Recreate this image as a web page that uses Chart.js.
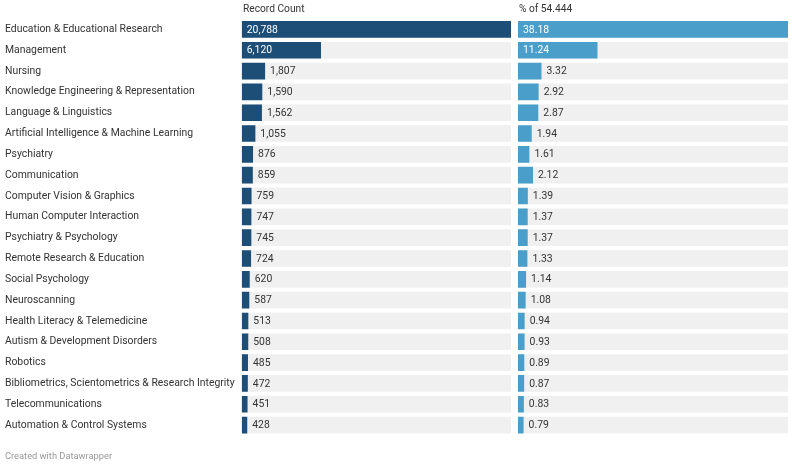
<!DOCTYPE html>
<html><head><meta charset="utf-8">
<script src="https://cdn.jsdelivr.net/npm/chart.js@4/dist/chart.umd.min.js"></script>
<style>
html,body{margin:0;padding:0;background:#fff;width:792px;height:465px;overflow:hidden;font-family:Roboto,sans-serif;}
.box{position:absolute;top:0;height:465px;}
.hdr{position:absolute;top:3px;font-size:10.2px;color:#333;}
.foot{position:absolute;left:5px;top:450px;font-size:9.3px;color:#999;}
</style></head><body>
<div class="box" style="left:0;width:511px"><canvas id="c1"></canvas></div>
<div class="box" style="left:518px;width:270px"><canvas id="c2"></canvas></div>
<div class="hdr" style="left:243px">Record Count</div>
<div class="hdr" style="left:519px">% of 54.444</div>
<div class="foot">Created with Datawrapper</div>
<script>
const categories = ["Education & Educational Research","Management","Nursing","Knowledge Engineering & Representation","Language & Linguistics","Artificial Intelligence & Machine Learning","Psychiatry","Communication","Computer Vision & Graphics","Human Computer Interaction","Psychiatry & Psychology","Remote Research & Education","Social Psychology","Neuroscanning","Health Literacy & Telemedicine","Autism & Development Disorders","Robotics","Bibliometrics, Scientometrics & Research Integrity","Telecommunications","Automation & Control Systems"];
const recordCount = [20788,6120,1807,1590,1562,1055,876,859,759,747,745,724,620,587,513,508,485,472,451,428];
const percentOf = [38.18,11.24,3.32,2.92,2.87,1.94,1.61,2.12,1.39,1.37,1.37,1.33,1.14,1.08,0.94,0.93,0.89,0.87,0.83,0.79];
const countLabels = ["20,788","6,120","1,807","1,590","1,562","1,055","876","859","759","747","745","724","620","587","513","508","485","472","451","428"];
const percentLabels = ["38.18","11.24","3.32","2.92","2.87","1.94","1.61","2.12","1.39","1.37","1.37","1.33","1.14","1.08","0.94","0.93","0.89","0.87","0.83","0.79"];

const FONT = "Roboto, sans-serif";
const FS = 10.4;
function barPlugin(labels){
  return {
    id:'bgAndLabels',
    beforeDatasetsDraw(chart){
      const ctx = chart.ctx, a = chart.chartArea;
      const meta = chart.getDatasetMeta(0);
      ctx.save();
      ctx.fillStyle = '#f0f0f0';
      meta.data.forEach(el => {
        ctx.fillRect(a.left, el.y - el.height/2, a.right - a.left, el.height);
      });
      ctx.restore();
    },
    afterDatasetsDraw(chart){
      const ctx = chart.ctx;
      const meta = chart.getDatasetMeta(0);
      ctx.save();
      ctx.font = FS + "px " + FONT;
      ctx.textBaseline = 'middle';
      ctx.textAlign = 'left';
      meta.data.forEach((el, i) => {
        const w = el.x - el.base;
        const t = labels[i];
        const tw = ctx.measureText(t).width;
        if (w > tw + 12) {
          ctx.fillStyle = '#fff';
          ctx.fillText(t, el.base + 5, el.y + 0.5);
        } else {
          ctx.fillStyle = '#333';
          ctx.fillText(t, el.x + 5, el.y + 0.5);
        }
      });
      ctx.restore();
    }
  };
}

function makeChart(id, values, color, labels, showY, padLeft){
  return new Chart(document.getElementById(id), {
    type:'bar',
    data:{labels:categories, datasets:[{data:values, backgroundColor:color, barPercentage:0.8, categoryPercentage:1}]},
    options:{
      indexAxis:'y', responsive:true, maintainAspectRatio:false, animation:false,
      layout:{padding:{top:19, bottom:29.5, left:padLeft, right:0}},
      plugins:{legend:{display:false}, tooltip:{enabled:false}},
      scales:{
        x:{display:false, min:0, max:Math.max(...values)},
        y:{display:showY, grid:{display:false}, border:{display:false},
           ticks:{crossAlign:'far', color:'#333', font:{family:FONT, size:FS}, padding:0, autoSkip:false},
           afterFit(s){ if(showY) s.width = 236.7; }}
      }
    },
    plugins:[barPlugin(labels)]
  });
}
makeChart('c1', recordCount, '#1d4e77', countLabels, true, 5);
makeChart('c2', percentOf, '#4a9eca', percentLabels, false, 0);
</script>
</body></html>
